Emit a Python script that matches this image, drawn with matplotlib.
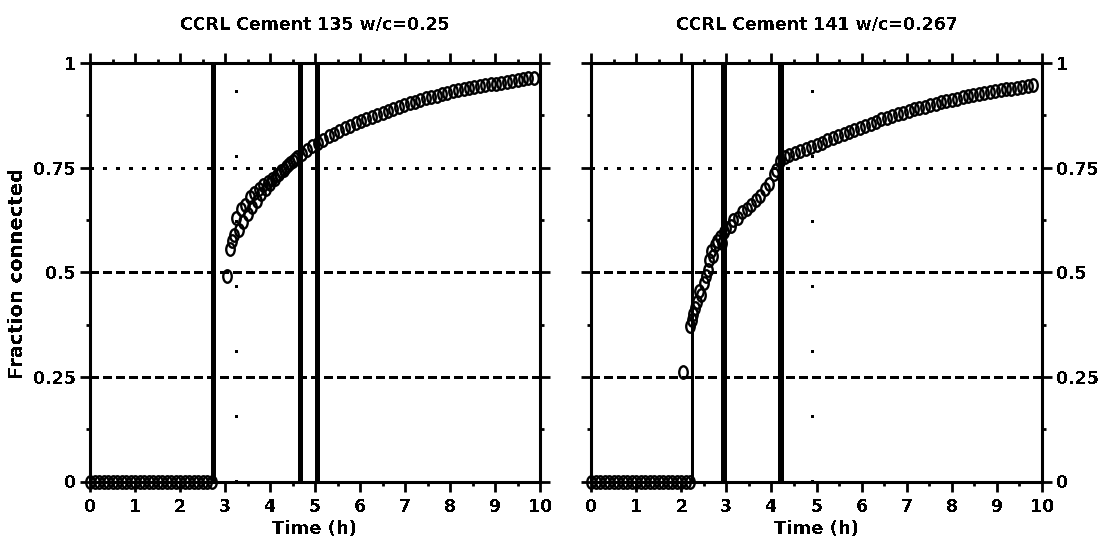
import matplotlib.pyplot as plt
import numpy as np
from matplotlib.path import Path
from matplotlib.ticker import MultipleLocator, FixedLocator, FixedFormatter

# CCRL cement 135, w/c = 0.25 : time (h) and fraction of solids connected
t135 = [0.0, 0.1, 0.2, 0.3, 0.4, 0.5, 0.6, 0.7, 0.8, 0.9, 1.0, 1.1, 1.2, 1.3,
        1.4, 1.5, 1.6, 1.7, 1.8, 1.9, 2.0, 2.1, 2.2, 2.3, 2.4, 2.5, 2.6, 2.7,
        3.05, 3.10, 3.15, 3.20, 3.25, 3.30, 3.35, 3.40, 3.45, 3.50, 3.55, 3.60,
        3.65, 3.70, 3.75, 3.80, 3.85, 3.90, 3.95, 4.00, 4.05, 4.10, 4.15, 4.20,
        4.25, 4.30, 4.35, 4.40, 4.45, 4.50, 4.55, 4.60,
        4.70, 4.82, 4.94, 5.06, 5.18, 5.30, 5.42, 5.54, 5.66, 5.78, 5.90, 6.02,
        6.14, 6.26, 6.38, 6.50, 6.62, 6.74, 6.86, 6.98, 7.10, 7.22, 7.34, 7.46,
        7.58, 7.70, 7.82, 7.94, 8.06, 8.18, 8.30, 8.42, 8.54, 8.66, 8.78, 8.90,
        9.02, 9.14, 9.26, 9.38, 9.50, 9.62, 9.74, 9.86]
f135 = [0.0, 0.0, 0.0, 0.0, 0.0, 0.0, 0.0, 0.0, 0.0, 0.0, 0.0, 0.0, 0.0, 0.0,
        0.0, 0.0, 0.0, 0.0, 0.0, 0.0, 0.0, 0.0, 0.0, 0.0, 0.0, 0.0, 0.0, 0.0,
        0.490, 0.555, 0.575, 0.590, 0.630, 0.600, 0.650, 0.620, 0.660, 0.640,
        0.680, 0.655, 0.690, 0.670, 0.700, 0.688, 0.708, 0.698, 0.716, 0.710,
        0.722, 0.724, 0.733, 0.735, 0.742, 0.745, 0.752, 0.756, 0.760, 0.765,
        0.770, 0.775,
        0.782, 0.793, 0.801, 0.809, 0.817, 0.825, 0.831, 0.838, 0.844, 0.850,
        0.856, 0.861, 0.866, 0.871, 0.876, 0.881, 0.886, 0.891, 0.895, 0.899,
        0.904, 0.908, 0.912, 0.916, 0.919, 0.922, 0.926, 0.929, 0.932, 0.935,
        0.938, 0.940, 0.943, 0.945, 0.947, 0.949, 0.951, 0.953, 0.955, 0.957,
        0.959, 0.961, 0.963, 0.965]

# CCRL cement 141, w/c = 0.267
t141 = [0.0, 0.1, 0.2, 0.3, 0.4, 0.5, 0.6, 0.7, 0.8, 0.9, 1.0, 1.1, 1.2, 1.3,
        1.4, 1.5, 1.6, 1.7, 1.8, 1.9, 2.0, 2.1, 2.2,
        2.05, 2.20, 2.25, 2.27, 2.30, 2.35, 2.40, 2.45, 2.50, 2.55, 2.60, 2.62,
        2.65, 2.70, 2.75, 2.80, 2.85, 2.90, 2.95, 3.00, 3.10, 3.15, 3.25, 3.35,
        3.45, 3.55, 3.65, 3.75, 3.85, 3.95, 4.05, 4.10, 4.20, 4.30, 4.40,
        4.52, 4.64, 4.76, 4.88, 5.00, 5.12, 5.24, 5.36, 5.48, 5.60, 5.72, 5.84,
        5.96, 6.08, 6.20, 6.32, 6.44, 6.56, 6.68, 6.80, 6.92, 7.04, 7.16, 7.28,
        7.40, 7.52, 7.64, 7.76, 7.88, 8.00, 8.12, 8.24, 8.36, 8.48, 8.60, 8.72,
        8.84, 8.96, 9.08, 9.20, 9.32, 9.44, 9.56, 9.68, 9.80]
f141 = [0.0, 0.0, 0.0, 0.0, 0.0, 0.0, 0.0, 0.0, 0.0, 0.0, 0.0, 0.0, 0.0, 0.0,
        0.0, 0.0, 0.0, 0.0, 0.0, 0.0, 0.0, 0.0, 0.0,
        0.262, 0.372, 0.385, 0.400, 0.415, 0.430, 0.455, 0.445, 0.475, 0.490,
        0.505, 0.530, 0.550, 0.540, 0.565, 0.575, 0.585, 0.570, 0.595, 0.605,
        0.610, 0.625, 0.630, 0.645, 0.652, 0.660, 0.672, 0.682, 0.700, 0.712,
        0.735, 0.745, 0.765, 0.775, 0.780,
        0.784, 0.789, 0.795, 0.800, 0.805, 0.810, 0.815, 0.820, 0.825, 0.830,
        0.835, 0.840, 0.845, 0.850, 0.855, 0.860, 0.865, 0.869, 0.873, 0.877,
        0.881, 0.885, 0.889, 0.893, 0.896, 0.900, 0.903, 0.906, 0.909, 0.912,
        0.915, 0.918, 0.921, 0.923, 0.926, 0.928, 0.931, 0.933, 0.935, 0.937,
        0.939, 0.941, 0.943, 0.945, 0.947]

# vertical markers (h) and their line widths (pt)
vlines135 = [2.74, 4.67, 5.04]
vwidth135 = [3.6, 3.6, 2.4]
vlines141 = [2.24, 2.95, 4.21]
vwidth141 = [2.0, 4.3, 4.0]
dotted135 = 3.25
dotted141 = 4.9

yticks = [0, 0.25, 0.5, 0.75, 1]
ylabels = ["0", "0.25", "0.5", "0.75", "1"]
xticks = [0, 1, 2, 3, 4, 5, 6, 7, 8, 9, 10]

plt.rcParams["font.family"] = "DejaVu Sans"
plt.rcParams["font.weight"] = "bold"
plt.rcParams["lines.antialiased"] = False
plt.rcParams["lines.scale_dashes"] = False
plt.rcParams["text.antialiased"] = False

# tall open "0" shaped marker
circ = Path.unit_circle()
oval = Path(circ.vertices * np.array([0.68, 1.0]), circ.codes)

fig = plt.figure(figsize=(10.98, 5.47), dpi=100)
axL = fig.add_axes([90 / 1098, 65.5 / 547, 450 / 1098, 418.5 / 547])
axR = fig.add_axes([591 / 1098, 65.5 / 547, 451 / 1098, 418.5 / 547])


def style(ax, title, t, f, vl, vw, dot_x, side):
    ax.set_xlim(0, 10)
    ax.set_ylim(0, 1)
    for s in ax.spines.values():
        s.set_linewidth(2.2)
    ax.axhline(0.25, color="black", lw=1.8, ls=(0, (6, 3)), zorder=1)
    ax.axhline(0.5, color="black", lw=1.8, ls=(0, (6, 3)), zorder=1)
    ax.axhline(0.75, color="black", lw=1.8, ls=(0, (2.5, 7)), zorder=1)
    ax.axvline(dot_x, color="black", lw=2, ls=(0, (2, 45)), zorder=1)
    for x, w in zip(vl, vw):
        ax.axvline(x, color="black", lw=w, zorder=2)
    ax.plot(t, f, ls="none", marker=oval, ms=9, mfc="none", mec="black",
            mew=1.7, clip_on=False, zorder=3)

    ax.xaxis.set_major_locator(FixedLocator(xticks))
    ax.xaxis.set_minor_locator(MultipleLocator(0.5))
    ax.yaxis.set_major_locator(FixedLocator(yticks))
    ax.yaxis.set_major_formatter(FixedFormatter(ylabels))
    ax.yaxis.set_minor_locator(MultipleLocator(0.125))
    ax.tick_params(which="both", direction="out", top=True, right=True,
                   width=2, labelsize=12.5)
    ax.tick_params(which="major", length=7)
    ax.tick_params(which="minor", length=3)
    ax.tick_params(axis="x", pad=5)
    ax.tick_params(axis="y", pad=3)
    if side == "right":
        ax.tick_params(axis="y", labelleft=False, labelright=True)
    ax.set_title(title, fontsize=12.5, fontweight="bold", pad=24)
    ax.set_xlabel("Time (h)", fontsize=13, fontweight="bold", labelpad=3)


style(axL, "CCRL Cement 135 w/c=0.25", t135, f135, vlines135, vwidth135,
      dotted135, "left")
style(axR, "CCRL Cement 141 w/c=0.267", t141, f141, vlines141, vwidth141,
      dotted141, "right")
fig.text(0.016, 0.5, "Fraction connected", rotation=90, ha="center",
         va="center", fontsize=14, fontweight="bold")

fig.savefig("out.png", dpi=100)
